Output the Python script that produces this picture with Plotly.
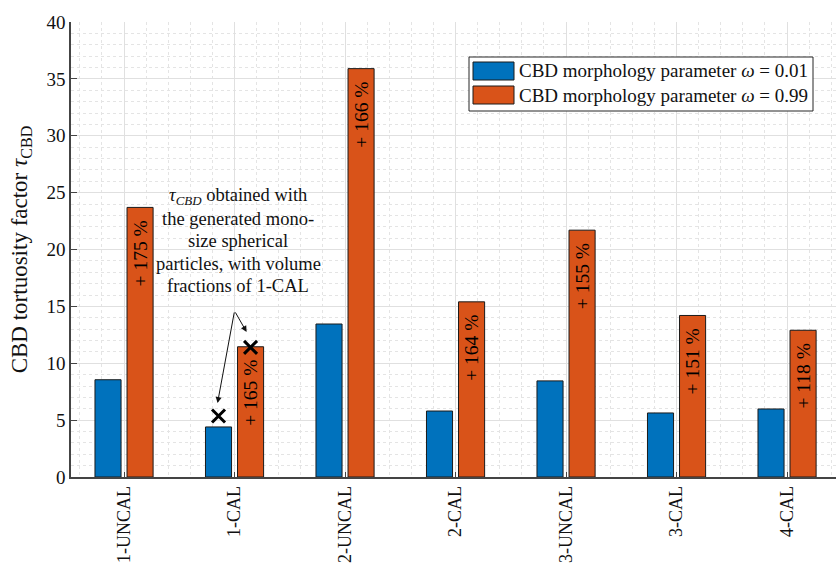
import plotly.graph_objects as go

categories = ["1-UNCAL", "1-CAL", "2-UNCAL", "2-CAL", "3-UNCAL", "3-CAL", "4-CAL"]
tau_w001 = [8.55, 4.4, 13.45, 5.8, 8.45, 5.63, 5.98]
tau_w099 = [23.7, 11.45, 35.9, 15.4, 21.7, 14.2, 12.9]
increase_labels = ["+ 175 %", "+ 165 %", "+ 166 %", "+ 164 %", "+ 155 %", "+ 151 %", "+ 118 %"]
series_names = ["CBD morphology parameter <i>ω</i> = 0.01",
                "CBD morphology parameter <i>ω</i> = 0.99"]
sphere_cat = "1-CAL"
sphere_tau = [5.36, 11.4]  # mono-size spherical particles, for w=0.01 and w=0.99
note_lines = ["<i>τ</i><sub><i>CBD</i></sub> obtained with",
              "the generated mono-",
              "size spherical",
              "particles, with volume",
              "fractions of 1-CAL"]

BLUE = "#0072BD"
ORANGE = "#D95319"
FONT = "Liberation Serif"
W, H = 836, 565
ML, MR, MT, MB = 71, 0, 22, 88
PW, PH = W - ML - MR, H - MT - MB


def px(x):
    return (x - ML) / PW


def py(y):
    return (H - MB - y) / PH


xpos = list(range(1, len(categories) + 1))
bw = 0.236
sep = 0.145

fig = go.Figure()
fig.add_trace(go.Bar(
    x=xpos, y=tau_w001, width=bw, offset=-sep - bw / 2,
    marker=dict(color=BLUE, line=dict(color="#1a1a1a", width=1)),
    name=series_names[0], showlegend=False,
))
fig.add_trace(go.Bar(
    x=xpos, y=tau_w099, width=bw, offset=sep - bw / 2,
    marker=dict(color=ORANGE, line=dict(color="#1a1a1a", width=1)),
    name=series_names[1], showlegend=False,
    text=[t + "\u00a0\u00a0" for t in increase_labels],
    textposition="inside", textangle=-90,
    insidetextanchor="end", constraintext="none",
    textfont=dict(family=FONT, size=19.5, color="black"),
))

ci = categories.index(sphere_cat) + 1
fig.add_trace(go.Scatter(
    x=[ci - sep, ci + sep], y=sphere_tau, mode="markers",
    marker=dict(symbol="x-thin", size=13, line=dict(color="black", width=3)),
    showlegend=False, hoverinfo="skip",
))

# annotation text, one line at a time (tight line spacing as in reference)
for i, line in enumerate(note_lines):
    fig.add_annotation(
        x=px(238), y=py(196 + 22.5 * i), xref="paper", yref="paper",
        text=line, showarrow=False, xanchor="center", yanchor="middle",
        font=dict(family=FONT, size=18.5, color="#111"),
    )
tail = (ci, 14.6)
for hx, hy in [(ci - 0.154, 6.5), (ci + 0.109, 12.75)]:
    fig.add_annotation(
        x=hx, y=hy, ax=tail[0], ay=tail[1], xref="x", yref="y", axref="x", ayref="y",
        text="", showarrow=True, arrowhead=2, arrowsize=1.2, arrowwidth=1, arrowcolor="#111",
    )

# legend box drawn to match MATLAB-style legend
fig.add_shape(type="rect", xref="paper", yref="paper",
              x0=px(469), x1=px(813), y0=py(111), y1=py(57),
              fillcolor="white", line=dict(color="#262626", width=1), layer="above")
for i, (name, col) in enumerate(zip(series_names, [BLUE, ORANGE])):
    yc = 71 + 24 * i
    fig.add_shape(type="rect", xref="paper", yref="paper",
                  x0=px(473), x1=px(514), y0=py(yc + 9), y1=py(yc - 9),
                  fillcolor=col, line=dict(color="#1a1a1a", width=1), layer="above")
    fig.add_annotation(x=px(517), y=py(yc), xref="paper", yref="paper",
                       text=name, showarrow=False, xanchor="left", yanchor="middle",
                       font=dict(family=FONT, size=19, color="#111"))

fig.update_layout(
    width=W, height=H,
    margin=dict(l=ML, r=MR, t=MT, b=MB),
    plot_bgcolor="white", paper_bgcolor="white",
    barmode="overlay", showlegend=False,
    font=dict(family=FONT, size=18, color="#262626"),
)
fig.update_xaxes(
    range=[0.52, 7.443], automargin=False,
    tickmode="array", tickvals=xpos, ticktext=categories, tickangle=-90,
    ticks="inside", ticklen=5, tickcolor="#444",
    showline=True, linecolor="#444", linewidth=1.5,
    showgrid=True, gridcolor="#e0e0e0", gridwidth=1,
    minor=dict(dtick=0.2, tick0=0, showgrid=True, gridcolor="#e4e4e4", griddash="dot", ticks=""),
    tickfont=dict(family=FONT, size=18, color="#111"),
    zeroline=False,
)
fig.update_yaxes(
    range=[0, 40], dtick=5, automargin=False,
    ticks="inside", ticklen=6, tickcolor="#444",
    showline=True, linecolor="#444", linewidth=1.5,
    showgrid=True, gridcolor="#e0e0e0", gridwidth=1,
    minor=dict(dtick=1, showgrid=True, gridcolor="#e4e4e4", griddash="dot", ticks=""),
    tickfont=dict(family=FONT, size=19, color="#111"),
    title=dict(text="CBD tortuosity factor <i>τ</i><sub>CBD</sub>",
               font=dict(family=FONT, size=23, color="#111"), standoff=12),
    zeroline=False,
)

fig.write_html("out.html", config={"displayModeBar": False},
               post_script="document.body.style.margin='0';document.body.style.overflow='hidden';")
